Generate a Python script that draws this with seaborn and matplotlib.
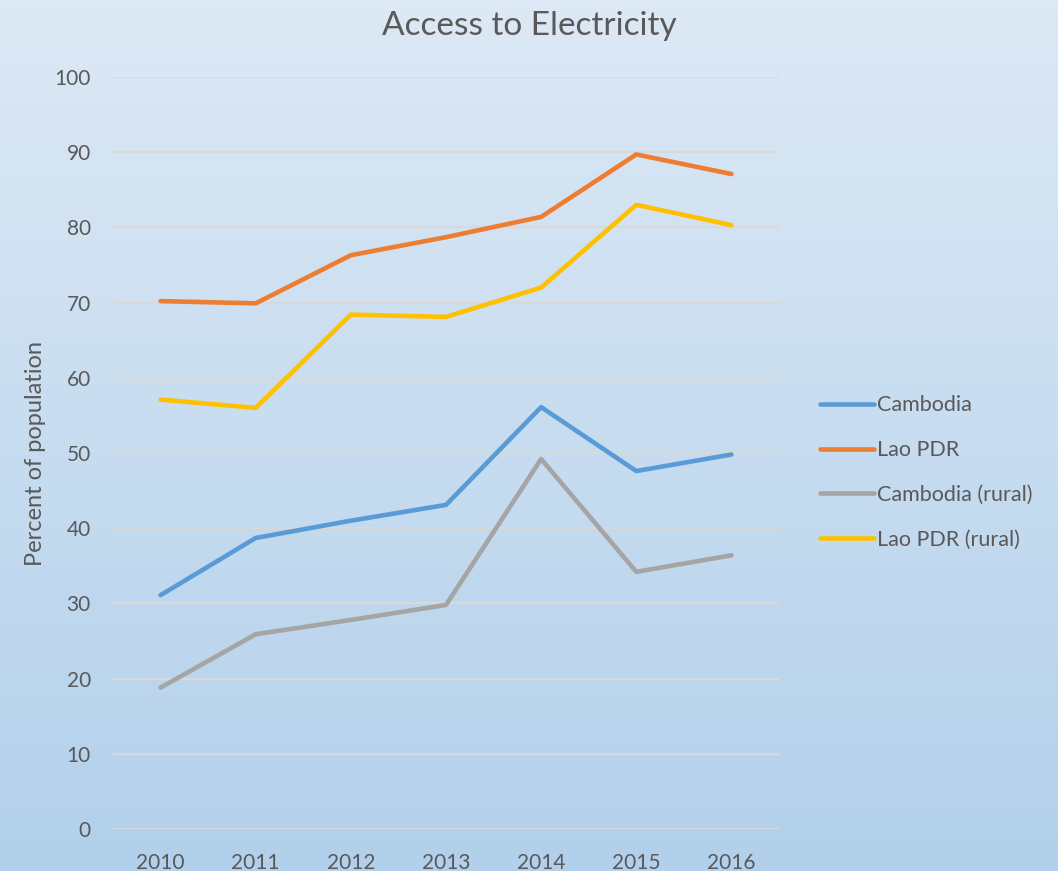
import pandas as pd
import numpy as np
import seaborn as sns
import matplotlib.pyplot as plt

years = [2010, 2011, 2012, 2013, 2014, 2015, 2016]
cambodia = [31.1, 38.7, 41.0, 43.1, 56.1, 47.6, 49.8]
lao = [70.2, 69.9, 76.3, 78.7, 81.4, 89.7, 87.1]
cambodia_rural = [18.8, 25.9, 27.8, 29.8, 49.2, 34.2, 36.4]
lao_rural = [57.1, 56.0, 68.4, 68.1, 72.0, 83.0, 80.3]

series = ["Cambodia", "Lao PDR", "Cambodia (rural)", "Lao PDR (rural)"]
colors = ["#5B9BD5", "#ED7D31", "#A5A5A5", "#FFC000"]

df = pd.DataFrame({
    "year": years * 4,
    "value": cambodia + lao + cambodia_rural + lao_rural,
    "series": sum([[s] * len(years) for s in series], []),
})

sns.set_style("white")
plt.rcParams["font.family"] = ["Lato", "DejaVu Sans"]
text_col = "#595959"

fig = plt.figure(figsize=(10.58, 8.71), dpi=100)

# background gradient
bg = fig.add_axes([0, 0, 1, 1], zorder=-10)
grad = np.linspace(0, 1, 256).reshape(-1, 1)
top = np.array([0xdd, 0xe9, 0xf5]) / 255
bot = np.array([0xb2, 0xd0, 0xeb]) / 255
img = top + (bot - top) * grad[:, :, None]
bg.imshow(img, aspect="auto", extent=[0, 1, 0, 1])
bg.axis("off")

ax = fig.add_axes([0.1068, 0.0482, 0.6295, 0.8634])
ax.patch.set_alpha(0)
sns.lineplot(data=df, x="year", y="value", hue="series", palette=colors,
             linewidth=3.3, ax=ax, legend=True)

ax.set_xlim(2009.5, 2016.5)
ax.set_ylim(0, 100)
ax.set_yticks(range(0, 101, 10))
ax.set_xticks(years)
ax.yaxis.grid(True, color="#d9d9d9", linewidth=1.5)
ax.set_axisbelow(True)
for s in ax.spines.values():
    s.set_visible(False)
ax.tick_params(axis="both", length=0, labelsize=15, colors=text_col)
ax.tick_params(axis="y", pad=16)
ax.tick_params(axis="x", pad=17)
ax.set_xlabel("")
ax.set_ylabel("Percent of population", fontsize=17, color=text_col, labelpad=6)

fig.text(0.5, 0.97, "Access to Electricity", ha="center", va="center",
         fontsize=24, color=text_col)

leg = ax.legend(loc="center left", bbox_to_anchor=(1.033, 0.474), frameon=False,
                fontsize=15.5, labelcolor=text_col, handlelength=2.5,
                handletextpad=0.15, labelspacing=1.15)
for line in leg.get_lines():
    line.set_linewidth(3.3)

fig.savefig("out.png", dpi=100)
